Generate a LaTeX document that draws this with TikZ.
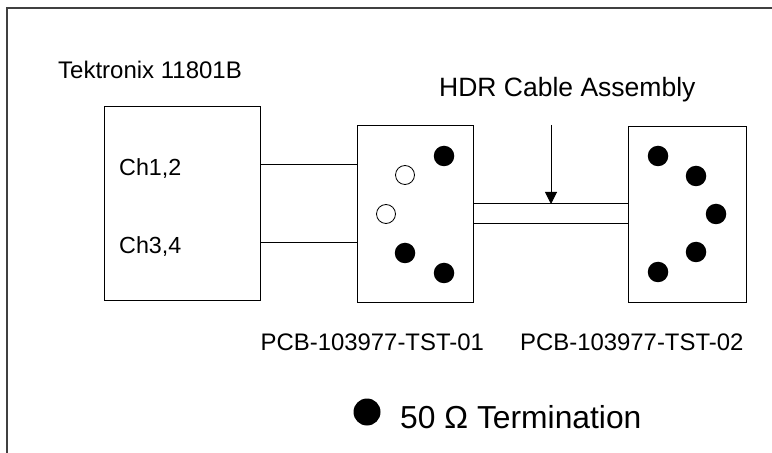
\documentclass[tikz,border=0pt]{standalone}
\usepackage{fontspec}
\setmainfont{Liberation Sans}
\usetikzlibrary{arrows.meta}
\newcommand\fsz[1]{\fontsize{#1bp}{#1bp}\selectfont}
\begin{document}
\begin{tikzpicture}[x=1bp,y=-1bp,
  boxnode/.style={draw, line width=1bp, inner sep=0, anchor=north west},
  lbl/.style={inner sep=0, anchor=base west},
  wire/.style={line width=1bp},
  frameline/.style={line width=1.8bp, draw=black!75},
  termdot/.style={fill=black, circle, inner sep=0, minimum size=20.5bp},
  opendot/.style={draw, circle, line width=0.8bp, inner sep=0, minimum size=19bp},
]
\useasboundingbox (0,0) rectangle (772,453);
% frame
\coordinate (fBL) at (7,453);
\coordinate (fTL) at (7,8);
\coordinate (fTR) at (772,8);
\draw[frameline] (fBL) -- (fTL) -- (fTR);

% boxes
\node[boxnode, minimum width=156bp, minimum height=194bp] (tek) at (104,106) {};
\node[boxnode, minimum width=116bp, minimum height=177bp] (pcba) at (357,125) {};
\node[boxnode, minimum width=118bp, minimum height=176bp] (pcbb) at (628,126) {};

% labels
\node[lbl, font=\fsz{24}] (tektxt) at (58,78.3) {Tektronix 11801B};
\node[lbl, font=\fsz{23.3}] (ch12) at (119,175.7) {Ch1,2};
\node[lbl, font=\fsz{23.3}] (ch34) at (119,254) {Ch3,4};
\node[lbl, font=\fsz{26.5}] (hdr) at (439,96.7) {HDR Cable Assembly};
\node[lbl, font=\fsz{23.9}] (pcbatxt) at (260.5,350.8) {PCB-103977-TST-01};
\node[lbl, font=\fsz{23.9}] (pcbbtxt) at (520,350.8) {PCB-103977-TST-02};
\node[lbl, font=\fsz{31.8}] (termtxt) at (400,428.5) {50 Ω Termination};

% channel wires
\coordinate (ya) at (0,165);
\coordinate (yb) at (0,243);
\draw[wire] (tek.east |- ya) -- (pcba.west |- ya);
\draw[wire] (tek.east |- yb) -- (pcba.west |- yb);

% cable
\coordinate (yc) at (0,204);
\coordinate (yd) at (0,224);
\draw[wire] (pcba.east |- yc) -- (pcbb.west |- yc);
\draw[wire] (pcba.east |- yd) -- (pcbb.west |- yd);

% arrow
\coordinate (arrtop) at (551,125);
\draw[wire, -{Triangle[length=12bp,width=12bp]}] (arrtop) -- (arrtop |- yc);

% PCB1 dots
\node[termdot] (a1) at (444,156) {};
\node[opendot] (a2) at (405,175) {};
\node[opendot] (a3) at (386,214) {};
\node[termdot] (a4) at (405,253) {};
\node[termdot] (a5) at (444,273) {};
% PCB2 dots
\node[termdot] (b1) at (658,156) {};
\node[termdot] (b2) at (696,176) {};
\node[termdot] (b3) at (716,214) {};
\node[termdot] (b4) at (696,252) {};
\node[termdot] (b5) at (658,272) {};
% legend dot
\node[termdot, minimum size=27bp] (legdot) at (367,412) {};
\end{tikzpicture}
\end{document}
